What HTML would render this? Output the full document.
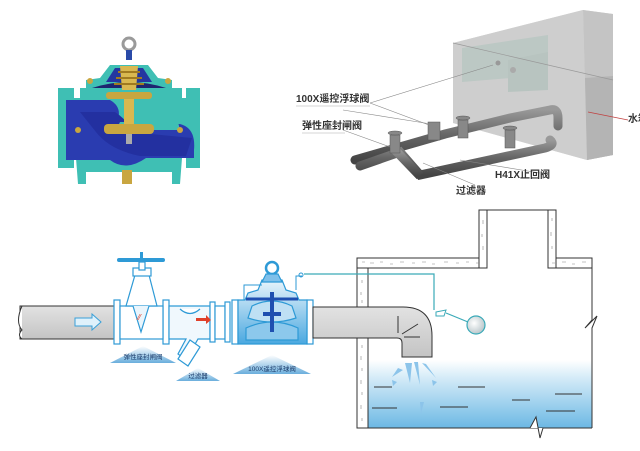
<!DOCTYPE html>
<html><head><meta charset="utf-8"><style>
html,body{margin:0;padding:0;background:#fff;}
svg{display:block;font-family:"Liberation Sans","Noto Sans CJK SC",sans-serif;}
</style></head><body>
<svg width="640" height="451" viewBox="0 0 640 451" xmlns="http://www.w3.org/2000/svg">
<defs>
<linearGradient id="pipe" x1="0" y1="0" x2="0" y2="1"><stop offset="0" stop-color="#e2e2e2"/><stop offset="1" stop-color="#c4c4c4"/></linearGradient>
<linearGradient id="water" x1="0" y1="0" x2="0" y2="1"><stop offset="0" stop-color="#ffffff"/><stop offset="0.25" stop-color="#d6ecf8"/><stop offset="1" stop-color="#6cb8e4"/></linearGradient>
<linearGradient id="vb" x1="0" y1="0" x2="0" y2="1"><stop offset="0" stop-color="#e8f4fb"/><stop offset="1" stop-color="#4aa8e0"/></linearGradient>
<linearGradient id="tri" x1="0" y1="0" x2="0" y2="1"><stop offset="0" stop-color="#ffffff"/><stop offset="1" stop-color="#6aaedc"/></linearGradient>
<radialGradient id="ball" cx="0.4" cy="0.4" r="0.6"><stop offset="0" stop-color="#fff"/><stop offset="1" stop-color="#bcc8cc"/></radialGradient>
<linearGradient id="gp" x1="0" y1="0" x2="0" y2="1"><stop offset="0" stop-color="#999"/><stop offset="0.5" stop-color="#666"/><stop offset="1" stop-color="#444"/></linearGradient>
</defs>

<!-- ===== Top-left valve photo ===== -->
<g>
<circle cx="129" cy="44" r="6" fill="none" stroke="#9a9a9a" stroke-width="3"/>
<rect x="126" y="50" width="6" height="10" fill="#2a4aa8"/>
<path d="M110 65 L148 65 L158 78 L172 80 L172 95 L86 95 L86 80 L100 78 Z" fill="#3fbfb4"/>
<path d="M115 68 L143 68 L152 82 L106 82 Z" fill="#2436a0"/>
<path d="M92 88 Q129 76 166 88 L160 96 L98 96 Z" fill="#1e2470"/>
<path d="M58 88 L74 88 L74 98 L80 98 L80 88 L182 88 L182 98 L186 98 L186 88 L200 88 L200 168 L186 168 L186 158 L182 158 L180 184 L172 184 L172 172 L86 172 L86 184 L78 184 L76 158 L74 158 L74 168 L58 168 Z" fill="#3fbfb4"/>
<path d="M66 100 L110 100 Q124 108 116 124 L180 124 Q196 128 194 150 L194 158 L146 158 Q126 172 110 160 L66 160 Z" fill="#2a3cb0"/>
<path d="M80 112 L115 112 Q130 122 130 132 L192 138 L186 156 L140 156 Q110 150 96 132 Z" fill="#2330a0"/>
<path d="M120 122 L178 122 L180 130 L116 130 Z" fill="#3fbfb4"/>
<rect x="106" y="92" width="46" height="7" rx="3" fill="#c9a640"/>
<path d="M120 66 L138 66 L136 90 L122 90 Z" fill="#d9b850"/>
<line x1="118" y1="72" x2="140" y2="72" stroke="#a07a20" stroke-width="2"/>
<line x1="116" y1="78" x2="142" y2="78" stroke="#a07a20" stroke-width="2"/>
<line x1="114" y1="84" x2="144" y2="84" stroke="#a07a20" stroke-width="2"/>
<rect x="124" y="99" width="10" height="28" fill="#d9b850"/>
<rect x="104" y="124" width="50" height="10" rx="4" fill="#c9a640"/>
<rect x="126" y="134" width="6" height="10" fill="#aaa"/>
<rect x="122" y="170" width="10" height="14" fill="#c9a640"/>
<circle cx="78" cy="130" r="3" fill="#c9a640"/>
<circle cx="180" cy="130" r="3" fill="#c9a640"/>
<circle cx="90" cy="81" r="3" fill="#c9a640"/>
<circle cx="168" cy="81" r="3" fill="#c9a640"/>
</g>

<!-- ===== Top-right 3D illustration ===== -->
<g>
<polygon points="453,43 583,10 613,14 613,155 587,160 453,123" fill="#d6d6d6"/>
<polygon points="583,10 613,14 613,155 587,160" fill="#c4c4c4"/>
<polygon points="453,43 583,10 587,160 453,123" fill="#cdcdcd" opacity="0.9"/>
<polygon points="462,48 548,35 548,75 462,82" fill="#bcc8c4"/>
<polygon points="508,60 548,52 548,90 508,92" fill="#b8c4c0"/>
<polygon points="585,78 613,76 613,155 587,160" fill="#b4b4b4"/>
<line x1="453" y1="43" x2="613" y2="80" stroke="#999" stroke-width="0.7"/>
<circle cx="498" cy="63" r="2.5" fill="#999"/>
<circle cx="513" cy="70" r="3" fill="#aaa"/>
<path d="M355 160 L445 134 L510 118 L550 110 Q558 108 558 118 L558 126" stroke="url(#gp)" stroke-width="9" fill="none" stroke-linecap="round"/>
<path d="M360 166 L400 152 L420 175 L545 148 Q556 145 550 140" stroke="url(#gp)" stroke-width="9" fill="none" stroke-linecap="round"/>
<path d="M395 150 L420 176" stroke="url(#gp)" stroke-width="9" fill="none"/>
<g fill="#888" stroke="#555" stroke-width="0.5">
<rect x="390" y="135" width="10" height="18"/><ellipse cx="395" cy="133" rx="7" ry="2"/>
<rect x="428" y="122" width="12" height="18"/>
<rect x="458" y="120" width="10" height="18"/><ellipse cx="463" cy="118" rx="7" ry="2"/>
<rect x="505" y="130" width="10" height="18"/><ellipse cx="510" cy="128" rx="7" ry="2"/>
</g>
<g fill="none" stroke="#888" stroke-width="0.6">
<line x1="370" y1="103" x2="493" y2="65"/>
<line x1="370" y1="103" x2="437" y2="128"/>
<line x1="343" y1="110" x2="431" y2="124"/>
<line x1="343" y1="130" x2="393" y2="148"/>
<line x1="475" y1="185" x2="423" y2="163"/>
<line x1="540" y1="173" x2="460" y2="160"/>
</g>
<line x1="588" y1="112" x2="628" y2="120" stroke="#c04040" stroke-width="0.7"/>
<g font-size="10" fill="#333" font-weight="bold">
<text x="296" y="102">100X遥控浮球阀</text>
<text x="302" y="129">弹性座封闸阀</text>
<text x="495" y="178">H41X止回阀</text>
<text x="456" y="194">过滤器</text>
<text x="628" y="122">水箱</text>
</g>
<line x1="296" y1="106" x2="370" y2="106" stroke="#aaa" stroke-width="0.6"/>
<line x1="302" y1="133" x2="345" y2="133" stroke="#aaa" stroke-width="0.6"/>
</g>

<!-- ===== Bottom schematic ===== -->
<rect x="20" y="306" width="94" height="33" fill="url(#pipe)" stroke="#333" stroke-width="1"/>
<path d="M22 306 Q15 322 22 330 Q17 335 22 339" fill="#fff" stroke="#333"/>
<path d="M75 318 L92 318 L92 314 L101 322 L92 330 L92 326 L75 326 Z" fill="#dff1fb" stroke="#3aa0d8" stroke-width="1"/>
<g stroke="#2e9ad6" stroke-width="1.2" fill="#fff">
<rect x="114" y="300" width="6" height="44"/>
<rect x="163" y="300" width="6" height="44"/>
<rect x="120" y="306" width="43" height="33"/>
<path d="M126 306 L135 275 L149 275 L157 306 Z"/>
<rect x="133" y="268" width="18" height="8"/>
<rect x="139" y="262" width="6" height="8"/>
<path d="M133 306 L141 332 L149 306" fill="#eaf5fc"/>
</g>
<rect x="117" y="258" width="48" height="4" rx="2" fill="#2e9ad6"/>
<rect x="140" y="252" width="3" height="10" fill="#2e9ad6"/>
<text x="138" y="320" font-size="8" fill="#e0402a">⁄⁄</text>
<g stroke="#2e9ad6" stroke-width="1.2" fill="#fff">
<path d="M169 306 L210 306 L210 339 L198 339 L186 360 L178 354 L186 339 L169 339 Z" fill="#f0f8fd"/>
<path d="M180 309 Q190 318 200 309"/>
<rect x="210" y="302" width="5" height="40"/>
<rect x="215" y="306" width="10" height="33"/>
<rect x="225" y="302" width="5" height="40"/>
<path d="M190 340 L200 347 L188 366 L178 359 Z"/>
</g>
<path d="M196 318 L206 318 L206 315 L211 320 L206 324 L206 321 L196 321 Z" fill="#e0402a"/>
<g stroke="#2e9ad6" stroke-width="1.2">
<rect x="232" y="300" width="6" height="44" fill="#fff"/>
<rect x="307" y="300" width="6" height="44" fill="#fff"/>
<path d="M238 300 L245 300 L248 293 L258 290 L262 280 L282 280 L286 290 L296 293 L299 300 L307 300 L307 344 L238 344 Z" fill="url(#vb)"/>
<path d="M252 306 Q272 296 292 306 L296 318 Q272 326 248 318 Z" fill="#bfe0f4"/>
<path d="M246 328 Q272 316 298 328 L298 340 L246 340 Z" fill="#8cc8ec"/>
<line x1="246" y1="299" x2="298" y2="299" stroke="#1f4fb0" stroke-width="3"/>
<rect x="270" y="292" width="4" height="40" fill="#1f4fb0" stroke="none"/>
<rect x="263" y="312" width="18" height="4" fill="#1f4fb0" stroke="none"/>
<circle cx="272" cy="268" r="6" fill="#fff" stroke-width="2.5"/>
<path d="M266 274 L262 282 L282 282 L278 274 Z" fill="#7fc0ea"/>
<path d="M244 300 L244 285 L262 285" fill="none" stroke-width="1"/>
<path d="M296 290 L296 276 L302 276" fill="none" stroke-width="1"/>
</g>
<circle cx="301" cy="275" r="2" fill="none" stroke="#2e9ad6"/>

<!-- tank water -->
<rect x="368" y="268" width="224" height="160" fill="#fff"/>
<rect x="368" y="360" width="224" height="68" fill="url(#water)"/>
<!-- tank walls -->
<g fill="#fff" stroke="#333" stroke-width="1">
<rect x="357" y="258" width="130" height="10"/>
<rect x="548" y="258" width="44" height="10"/>
<rect x="479" y="210" width="8" height="58"/>
<rect x="548" y="210" width="8" height="58"/>
<rect x="357" y="268" width="11" height="39"/>
<rect x="357" y="338" width="11" height="90"/>
</g>
<line x1="479" y1="210" x2="556" y2="210" stroke="#333"/>
<g fill="none" stroke="#888" stroke-width="0.6">
<path d="M362 262 h3 M370 263 h4 M380 262 h3 M390 264 h3 M400 262 h4 M412 263 h3 M422 262 h4 M432 264 h3 M444 262 h4 M456 263 h3 M466 262 h3 M476 263 h3 M552 263 h3 M562 262 h4 M572 264 h3 M582 262 h4"/>
<path d="M362 280 v3 M361 292 v3 M362 300 v3 M362 345 v3 M361 356 v4 M362 368 v3 M361 380 v4 M362 392 v3 M361 405 v4 M362 418 v3 M483 220 v4 M482 234 v3 M483 246 v4 M552 218 v3 M551 232 v4 M552 246 v3"/>
</g>
<line x1="368" y1="428" x2="592" y2="428" stroke="#333"/>
<path d="M592 268 L592 320 L585 328 L597 316 L592 328 L592 428" fill="none" stroke="#333"/>
<path d="M530 428 L536 417 L540 438 L543 428" fill="#fff" stroke="#333"/>
<!-- pipe to tank -->
<path d="M313 307 L403 307 Q432 307 432 336 L432 357 L402 357 L402 343 Q402 338 397 338 L313 338 Z" fill="url(#pipe)" stroke="#333" stroke-width="1"/>
<line x1="398" y1="316" x2="398" y2="333" stroke="#333"/>
<line x1="402" y1="334" x2="418" y2="324" stroke="#333"/>
<line x1="404" y1="337" x2="420" y2="337" stroke="#333"/>
<g stroke="#333" stroke-width="1">
<line x1="374" y1="387" x2="392" y2="387"/><line x1="458" y1="387" x2="485" y2="387"/>
<line x1="555" y1="394" x2="582" y2="394"/><line x1="512" y1="400" x2="530" y2="400"/>
<line x1="372" y1="408" x2="397" y2="408"/><line x1="440" y1="407" x2="468" y2="407"/>
<line x1="546" y1="411" x2="575" y2="411"/>
</g>
<g fill="#8cc4ea">
<path d="M405 363 L412 363 L410 383 Z"/><path d="M414 362 L418 362 L420 385 Z"/>
<path d="M422 363 L426 364 L436 378 Z"/><path d="M398 368 L403 370 L392 377 Z"/>
<path d="M392 380 L397 382 L393 386 Z"/><path d="M432 380 L437 382 L433 386 Z"/>
<path d="M420 402 L424 402 L421 414 Z"/>
</g>
<path d="M304 274 L434 274 L434 310" fill="none" stroke="#3aaab8" stroke-width="1.2"/>
<path d="M436 312 L446 310 L444 316 L436 316 Z" fill="#fff" stroke="#3aaab8"/>
<line x1="446" y1="313" x2="468" y2="322" stroke="#3aaab8" stroke-width="1.2"/>
<circle cx="476" cy="325" r="9" fill="url(#ball)" stroke="#3aaab8" stroke-width="1.2"/>
<polygon points="110,363 143,346 176,363" fill="url(#tri)"/>
<polygon points="176,381 198,368 220,381" fill="url(#tri)"/>
<polygon points="233,374 272,355 311,374" fill="url(#tri)"/>
<g font-size="6.5" fill="#1a3a6a" text-anchor="middle">
<text x="143" y="359">弹性座封闸阀</text>
<text x="198" y="378">过滤器</text>
<text x="272" y="371">100X遥控浮球阀</text>
</g>
</svg>
</body></html>
